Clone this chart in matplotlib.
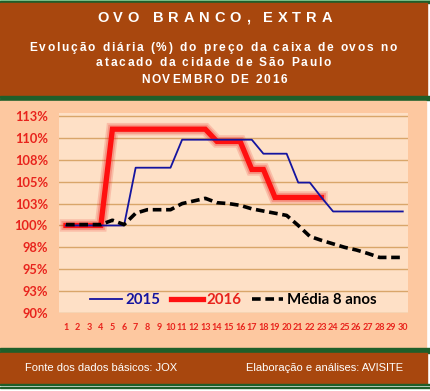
import matplotlib
matplotlib.use("Agg")
import matplotlib.pyplot as plt
from matplotlib import font_manager, ft2font
from matplotlib.font_manager import FontProperties
from matplotlib.patches import Rectangle

# --- dados (% do preço no dia 1) ---
dias = list(range(1, 31))
v2015 = [100, 100, 100, 100, 100, 100, 106.6, 106.6, 106.6, 106.6,
         109.8, 109.8, 109.8, 109.8, 109.8, 109.8, 109.8, 108.2, 108.2, 108.2,
         104.9, 104.9, 103.2, 101.6, 101.6, 101.6, 101.6, 101.6, 101.6, 101.6]
dias2016 = list(range(1, 24))
v2016 = [100, 100, 100, 100, 111.0, 111.0, 111.0, 111.0, 111.0, 111.0,
         111.0, 111.0, 111.0, 109.6, 109.6, 109.6, 106.4, 106.4, 103.2, 103.2,
         103.2, 103.2, 103.2]
media = [100.1, 100.1, 100.1, 100.1, 100.6, 100.1, 101.4, 101.8, 101.8, 101.8,
         102.5, 102.8, 103.1, 102.6, 102.5, 102.3, 101.9, 101.65, 101.4, 101.15,
         100.0, 98.75, 98.3, 97.9, 97.5, 97.2, 96.8, 96.35, 96.35, 96.35]
yticks = [90, 92.5, 95, 97.5, 100, 102.5, 105, 107.5, 110, 112.5]
ylabels = ['90%', '93%', '95%', '98%', '100%', '103%', '105%', '108%', '110%', '113%']

W, H = 430, 391
BROWN = '#a8470e'
GREEN = '#1f5f2a'
SALMON = '#fdc8a0'
PLOTBG = '#fee0c6'
RED = '#e8231c'
BLUE = '#1414a0'

fig = plt.figure(figsize=(W / 100, H / 100), dpi=100)
fig.patch.set_facecolor('white')


def band(y0, y1, color, x0=0, x1=W):
    fig.patches.append(Rectangle((x0 / W, 1 - y1 / H), (x1 - x0) / W, (y1 - y0) / H,
                                 transform=fig.transFigure, color=color, zorder=-5))


# faixas de fundo
band(0, 1, '#8fd19a')
band(1, 2.5, GREEN)
band(2.5, 96, BROWN, x1=427)
band(96, 97.5, GREEN)
band(99, 100.5, GREEN)
band(100.5, 348, SALMON, x1=426)
band(348, 349.5, GREEN)
band(350.5, 352.5, GREEN)
band(352.5, 383.5, BROWN, x1=427)
band(383.5, 385, GREEN)
band(386.5, 388, GREEN)


def spaced(s, x0, x1, y, size, weight='bold', family='Liberation Sans', color='white'):
    # texto com espaçamento entre letras, ocupando de x0 a x1 (px)
    prop = FontProperties(family=family, weight=weight, size=size)
    font = ft2font.FT2Font(font_manager.findfont(prop))
    font.set_size(size, 100)
    advs = [font.load_char(ord(c)).linearHoriAdvance / 65536 for c in s]
    track = ((x1 - x0) - sum(advs)) / (len(s) - 1)
    x = x0
    for c, a in zip(s, advs):
        if c != ' ':
            fig.text(x / W, 1 - y / H, c, fontproperties=prop, color=color,
                     ha='left', va='center', zorder=5)
        x += a + track


spaced('OVO BRANCO, EXTRA', 97, 332, 18, 10.5)
spaced('Evolução diária (%) do preço da caixa de ovos no', 29, 397, 48, 8.6)
spaced('atacado da cidade de São Paulo', 96, 331, 63, 8.6)
spaced('NOVEMBRO DE 2016', 141, 287, 80, 8.6)

fig.text(25 / W, 1 - 368 / H, 'Fonte dos dados básicos: JOX', color='white',
         family='Liberation Sans', fontsize=8, va='center', ha='left')
fig.text(403 / W, 1 - 368 / H, 'Elaboração e análises: AVISITE', color='white',
         family='Liberation Sans', fontsize=8, va='center', ha='right')

# --- gráfico ---
ax = fig.add_axes([59 / W, 1 - 313 / H, 349 / W, 200 / H])
ax.set_zorder(2)
ax.set_facecolor(PLOTBG)
for s in ax.spines.values():
    s.set_visible(False)

ax.set_xlim(0.4, 30.45)
ax.set_ylim(90, 112.85)
ax.set_yticks(yticks)
ax.set_yticklabels(ylabels)
ax.set_xticks(dias)
ax.set_xticklabels([str(d) for d in dias])
ax.yaxis.grid(True, color='#d9a66a', linewidth=1)
ax.set_axisbelow(True)
ax.tick_params(axis='both', length=0, colors=RED)
ax.tick_params(axis='y', pad=8)
ax.tick_params(axis='x', pad=7)
for lb in ax.get_yticklabels():
    lb.set_fontproperties(FontProperties(family='Lato', weight='bold', size=9.3))
for lb in ax.get_xticklabels():
    lb.set_fontproperties(FontProperties(family='Lato', weight='bold', size=6.5))

# brilho da linha 2016
ax.plot(dias2016, v2016, color=RED, linewidth=9, alpha=0.18, solid_joinstyle='miter')
ax.plot(dias2016, v2016, color=RED, linewidth=6.5, alpha=0.25, solid_joinstyle='miter')
ax.plot(dias, v2015, color=BLUE, linewidth=1.3, label='2015', zorder=4)
ax.plot(dias2016, v2016, color='#ff1010', linewidth=3.8, label='2016',
        solid_joinstyle='miter', zorder=3)
ax.plot(dias, media, color='black', linewidth=2.6, linestyle=(0, (2.4, 1.3)),
        label='Média 8 anos', zorder=5)

leg = ax.legend(loc='center', bbox_to_anchor=(0.5, 0.065), ncol=3, frameon=False,
                handlelength=2.1, handletextpad=0.25, columnspacing=0.7,
                prop=FontProperties(family='Lato', weight='bold', size=10.8))
for t, c in zip(leg.get_texts(), [BLUE, RED, 'black']):
    t.set_color(c)

fig.savefig('out.png', dpi=100, facecolor=fig.get_facecolor())
